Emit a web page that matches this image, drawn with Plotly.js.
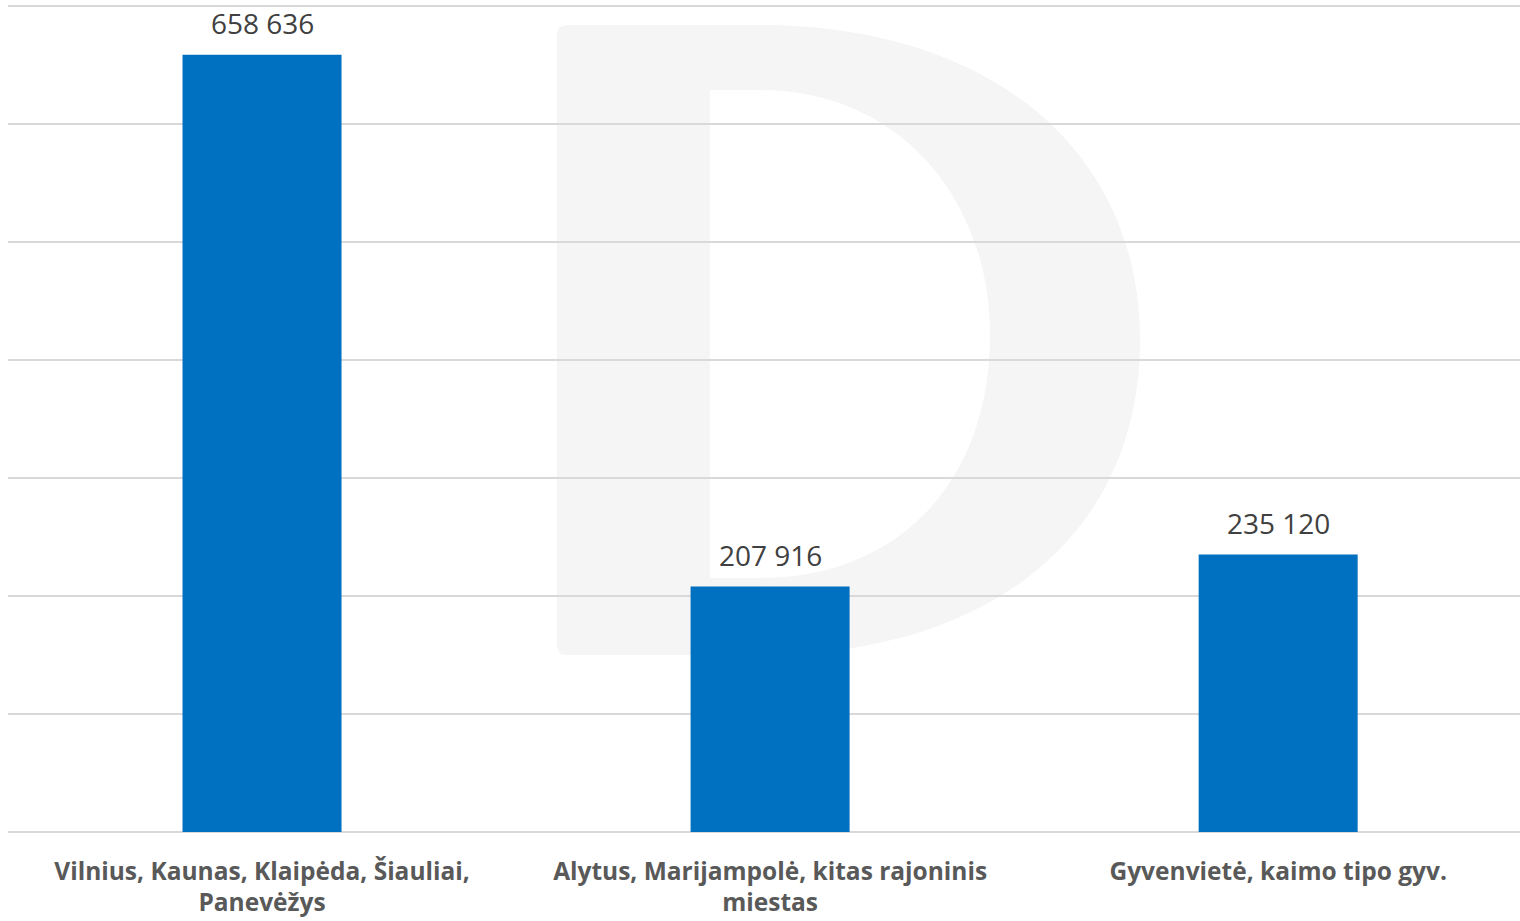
<!DOCTYPE html>
<html>
<head>
<meta charset="utf-8">
<script src="https://cdn.plot.ly/plotly-3.0.1.min.js"></script>
<style>html,body{margin:0;padding:0;background:#fff;}#chart{width:1520px;height:921px;}</style>
</head>
<body>
<div id="chart"></div>
<script>
const categories = [
  "Vilnius, Kaunas, Klaipėda, Šiauliai,<br>Panevėžys",
  "Alytus, Marijampolė, kitas rajoninis<br>miestas",
  "Gyvenvietė, kaimo tipo gyv."
];
const values = [658636, 207916, 235120];

function fmt(v){ return String(v).replace(/\B(?=(\d{3})+(?!\d))/g, " "); }

// faint "D" watermark (decoration), given in page pixels and converted to paper coords
const W = 1520, H = 921, L = 8, R = 0, T = 3, B = 89;
const pw = W - L - R, ph = H - T - B;
function px(x){ return ((x - L) / pw).toFixed(4); }
function py(y){ return ((H - B - y) / ph).toFixed(4); }
function P(x, y){ return px(x) + "," + py(y); }
const dPath =
  "M" + P(567,25) + " L" + P(760,25) +
  " C" + P(990,25) + " " + P(1140,150) + " " + P(1140,340) +
  " C" + P(1140,535) + " " + P(990,655) + " " + P(760,655) +
  " L" + P(567,655) + " Q" + P(557,655) + " " + P(557,645) +
  " L" + P(557,35) + " Q" + P(557,25) + " " + P(567,25) + " Z" +
  " M" + P(710,90) + " L" + P(760,90) +
  " C" + P(900,90) + " " + P(990,200) + " " + P(990,335) +
  " C" + P(990,480) + " " + P(900,578) + " " + P(760,578) +
  " L" + P(710,578) + " Z";

const trace = {
  type: "bar",
  x: [0, 1, 2],
  y: values,
  width: 0.313,
  marker: { color: "#0070c0", line: { width: 0 } },
  hoverinfo: "skip"
};

const annotations = values.map((v, i) => ({
  x: i, y: v, xref: "x", yref: "y",
  text: fmt(v),
  showarrow: false,
  yanchor: "bottom",
  yshift: 11,
  font: { family: "Open Sans, sans-serif", size: 28, color: "#404040" }
}));

const layout = {
  width: W, height: H,
  margin: { l: L, r: R, t: T, b: B, pad: 0 },
  paper_bgcolor: "#ffffff",
  plot_bgcolor: "#ffffff",
  showlegend: false,
  xaxis: {
    range: [-0.5, 2.476],
    tickmode: "array",
    tickvals: [0, 1, 2],
    ticktext: categories,
    showgrid: false,
    zeroline: false,
    showline: false,
    ticks: "",
    ticklabelstandoff: 22,
    tickfont: { family: "Open Sans, sans-serif", size: 24.5, color: "#595959", weight: "bold" }
  },
  yaxis: {
    range: [0, 702400],
    tickmode: "linear",
    tick0: 0,
    dtick: 100000,
    showticklabels: false,
    ticks: "",
    showgrid: true,
    gridcolor: "#d9d9d9",
    gridwidth: 1.5,
    zeroline: true,
    zerolinecolor: "#d9d9d9",
    zerolinewidth: 1.5,
    showline: false
  },
  annotations: annotations,
  shapes: [{
    type: "path",
    xref: "paper", yref: "paper",
    path: dPath,
    fillrule: "evenodd",
    fillcolor: "#f5f5f5",
    line: { width: 0 },
    layer: "below"
  }]
};

Plotly.newPlot("chart", [trace], layout, { displayModeBar: false, staticPlot: true });
</script>
</body>
</html>
